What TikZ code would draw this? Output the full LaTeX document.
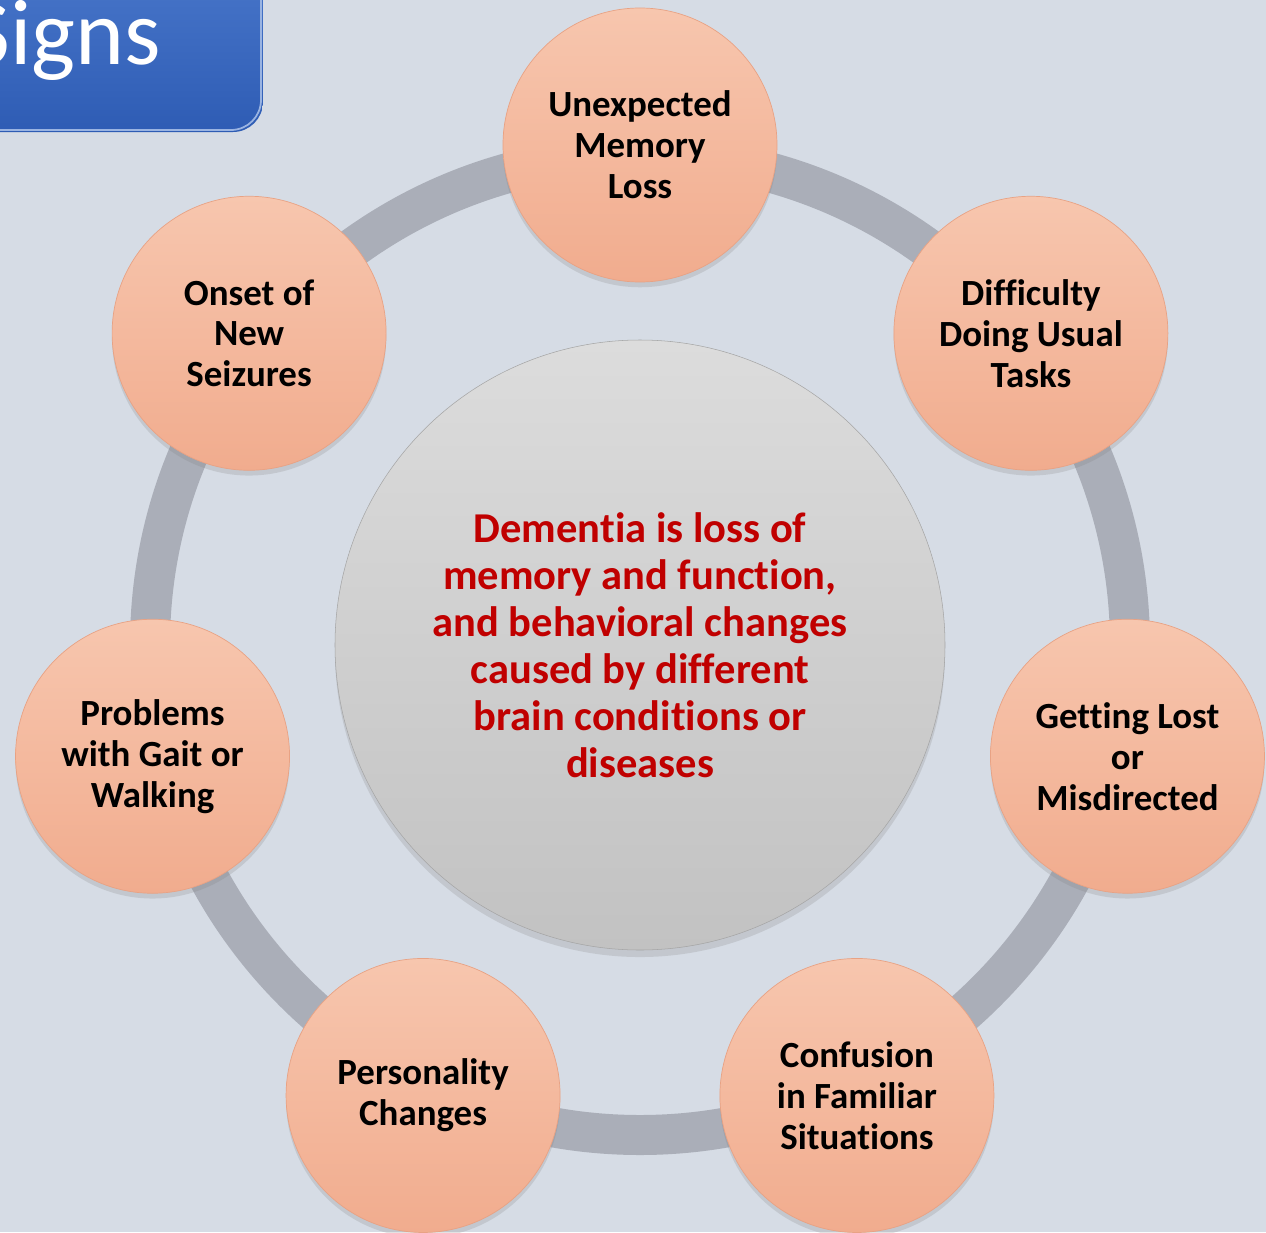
\documentclass[tikz,border=0pt]{standalone}
\usepackage{fontspec}
\setmainfont{Carlito}[Ligatures=NoCommon]
\usetikzlibrary{shadows}

\definecolor{bgcol}{RGB}{214,220,229}
\definecolor{ringcol}{RGB}{170,174,184}
\definecolor{peachtop}{RGB}{247,198,174}
\definecolor{peachbot}{RGB}{241,172,142}
\definecolor{peachedge}{RGB}{232,162,132}
\definecolor{coretop}{RGB}{220,220,220}
\definecolor{corebot}{RGB}{194,194,194}
\definecolor{redtxt}{RGB}{192,0,0}
\definecolor{titletop}{RGB}{72,118,202}
\definecolor{titlebot}{RGB}{46,92,180}

\begin{document}
\begin{tikzpicture}[
  ring/.style={draw=ringcol, line width=0.8cm},
  sign/.style={circle, minimum size=5.48cm, inner sep=0pt, align=center,
    top color=peachtop, bottom color=peachbot, draw=peachedge, line width=0.4pt,
    drop shadow={opacity=0.22, shadow xshift=0pt, shadow yshift=-3pt},
    font=\bfseries\fontsize{21}{23.3}\selectfont},
  core/.style={circle, minimum size=12.2cm, inner sep=0pt, align=center,
    top color=coretop, bottom color=corebot, draw=corebot!85!black, line width=0.3pt,
    drop shadow={opacity=0.22, shadow xshift=0pt, shadow yshift=-4pt},
    text=redtxt, font=\bfseries\fontsize{24.2}{26.7}\selectfont}
]
% page and background
\useasboundingbox (-12.8,-11.74) rectangle (12.52,12.9);
\fill[bgcol] (-12.8,-11.74) rectangle (12.52,12.9);

% title tab in the corner
\begin{scope}
  \clip (-12.8,10.26) rectangle (-7.54,12.9);
  \shade[top color=titletop, bottom color=titlebot, rounded corners=0.6cm]
    (-13.6,13.6) rectangle (-7.54,10.26);
  \draw[titletop!55!white, line width=1pt, rounded corners=0.6cm]
    (-7.58,13.6) -- (-7.58,10.3) -- (-13.6,10.3);
  \node[anchor=base east, text=white, inner sep=0pt,
    font=\fontsize{53}{60}\selectfont] (title) at (-9.58,11.6) {Signs};
\end{scope}

% ring behind the circles
\draw[ring] (0,0) circle[radius=9.8cm];

\node[core] (core) at (0,0) {Dementia is loss of\\memory and function,\\and behavioral changes\\caused by different\\brain conditions or\\diseases};

\foreach \k/\nm/\txt in {
  0/memory/{Unexpected\\Memory\\Loss},
  1/tasks/{Difficulty\\Doing Usual\\Tasks},
  2/lost/{Getting Lost\\or\\Misdirected},
  3/confusion/{Confusion\\in Familiar\\Situations},
  4/personality/{Personality\\Changes},
  5/gait/{Problems\\with Gait or\\Walking},
  6/seizures/{Onset of\\New\\Seizures}}
  \node[sign] (\nm) at ({90-\k*360/7}:10cm) {\txt};
\end{tikzpicture}
\end{document}
